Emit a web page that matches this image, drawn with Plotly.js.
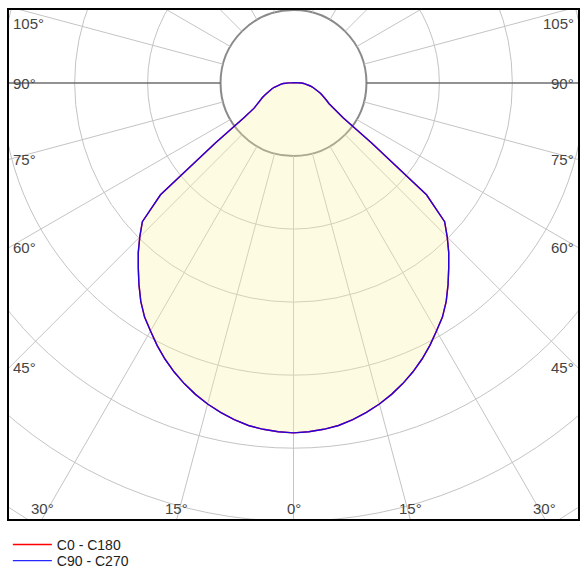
<!DOCTYPE html>
<html>
<head>
<meta charset="utf-8">
<script src="https://cdn.plot.ly/plotly-3.0.1.min.js"></script>
<style>
	html, body { margin: 0; padding: 0; background: #fff; }
	#plot { width: 586px; height: 586px; }
</style>
</head>
<body>
<div id="plot"></div>
<script>
	// Light distribution, cd/klm, gamma angle measured from straight down.
	const gammaDeg = [0, 2.5, 5, 7.5, 10, 12.5, 15, 17.5, 20, 22.5, 25, 27.5, 30, 32.5, 35, 37.5, 40, 42.5, 45, 47.5,
		50, 52.5, 55, 57.5, 60, 62.5, 65, 67.5, 70, 72.5, 75, 77.5, 80, 82.5, 85, 87.5, 90, 92.5, 95, 100, 105,
		120, 135, 150, 165, 180];
	const intensityC0 = [479, 478, 476, 473, 468, 462, 455, 447, 438, 428, 417, 405, 392, 380, 365, 348, 331, 315, 298, 281,
		238, 135, 83, 64, 56, 51, 47, 42, 38, 34, 30.5, 27, 23.5, 20, 17, 14, 11, 6, 3, 1.5, 1,
		0.5, 0.5, 0.5, 0.5, 0.5];
	const intensityC90 = [479, 478, 476, 473, 468, 462, 455, 447, 438, 428, 417, 405, 392, 380, 365, 348, 331, 315, 298, 281,
		238, 135, 83, 64, 56, 51, 47, 42, 38, 34, 30.5, 27, 23.5, 20, 17, 14, 11, 6, 3, 1.5, 1,
		0.5, 0.5, 0.5, 0.5, 0.5];

	// Grid.
	const gridRadii = [100, 200, 300, 400, 500, 600, 700];
	const gridAngles = [0, 15, 30, 45, 60, 75, 90, 105, 120, 135, 150, 165];
	const labelAngles = [0, 15, 30, 45, 60, 75, 90, 105];

	const xRange = [-390, 390];
	const yRange = [-597, 100];
	const rad = d => d * Math.PI / 180;

	// Closed curve of one C-plane pair: left half (gamma 180 -> 0), then right half (0 -> 180).
	function planeCurve(values) {
		const x = [], y = [];
		for (let i = gammaDeg.length - 1; i >= 0; i--) {
			x.push(-values[i] * Math.sin(rad(gammaDeg[i])));
			y.push(-values[i] * Math.cos(rad(gammaDeg[i])));
		}
		for (let i = 1; i < gammaDeg.length; i++) {
			x.push(values[i] * Math.sin(rad(gammaDeg[i])));
			y.push(-values[i] * Math.cos(rad(gammaDeg[i])));
		}
		return { x, y };
	}

	const c0 = planeCurve(intensityC0);
	const c90 = planeCurve(intensityC90);

	const traces = [
		{
			x: c0.x, y: c0.y, mode: 'lines', fill: 'toself',
			fillcolor: 'rgba(248,245,162,0.3)', line: { width: 0 },
			hoverinfo: 'skip', showlegend: false
		},
		{
			x: c0.x, y: c0.y, mode: 'lines', name: 'C0 - C180',
			line: { color: '#ff0000', width: 1.4 }, legend: 'legend'
		},
		{
			x: c90.x, y: c90.y, mode: 'lines', name: 'C90 - C270',
			line: { color: '#0000ff', width: 1.4 }, opacity: 0.85, legend: 'legend2'
		}
	];

	// Circles and radial lines as shapes under the traces.
	const shapes = [];
	gridRadii.forEach((r, i) => {
		shapes.push({
			type: 'circle', xref: 'x', yref: 'y', layer: 'below',
			x0: -r, x1: r, y0: -r, y1: r,
			line: { color: i === 0 ? '#8a8a8a' : '#c4c4c4', width: i === 0 ? 2 : 1 }
		});
	});
	gridAngles.forEach(a => {
		[1, -1].forEach(side => {
			if (a === 0 && side === -1) return;
			const sx = side * Math.sin(rad(a)), sy = -Math.cos(rad(a));
			shapes.push({
				type: 'line', xref: 'x', yref: 'y', layer: 'below',
				x0: 100 * sx, y0: 100 * sy, x1: 1000 * sx, y1: 1000 * sy,
				line: { color: a === 90 ? '#6e6e6e' : '#c4c4c4', width: a === 90 ? 1.5 : 1 }
			});
		});
	});

	// Angle labels where each ray meets the frame.
	const labelFont = { family: 'Arial, Liberation Sans, sans-serif', size: 15, color: '#444' };
	const annotations = [];
	labelAngles.forEach(a => {
		[1, -1].forEach(side => {
			if (a === 0 && side === -1) return;
			const t = Math.tan(rad(a));
			const xb = -yRange[0] * t;
			const ann = { text: a + '°', showarrow: false, font: labelFont, xref: 'x', yref: 'y' };
			if (a < 90 && xb <= xRange[1]) {
				Object.assign(ann, { x: side * xb, y: yRange[0], xanchor: 'center', yanchor: 'bottom', yshift: 0 });
			} else {
				let ys = a === 90 ? 0 : -xRange[1] / t;
				const opts = { x: side * xRange[1], xanchor: side > 0 ? 'right' : 'left', xshift: side > 0 ? -2 : 2 };
				if (ys > yRange[1]) {
					Object.assign(opts, { y: yRange[1], yanchor: 'top', yshift: -3 });
				} else {
					Object.assign(opts, { y: ys, yanchor: 'middle' });
				}
				Object.assign(ann, opts);
			}
			annotations.push(ann);
		});
	});

	const legendFont = { family: 'Arial, Liberation Sans, sans-serif', size: 14, color: '#222' };
	const layout = {
		width: 586,
		height: 586,
		margin: { l: 9, r: 8, t: 10, b: 67 },
		paper_bgcolor: '#fff',
		plot_bgcolor: '#fff',
		xaxis: {
			range: xRange, showgrid: false, zeroline: false, showticklabels: false, ticks: '',
			showline: true, mirror: true, linecolor: '#000', linewidth: 2, fixedrange: true
		},
		yaxis: {
			range: yRange, showgrid: false, zeroline: false, showticklabels: false, ticks: '',
			showline: true, mirror: true, linecolor: '#000', linewidth: 2, fixedrange: true
		},
		shapes: shapes,
		annotations: annotations,
		legend: {
			x: -0.002, y: -0.051, xanchor: 'left', yanchor: 'middle',
			font: legendFont, itemwidth: 39, bgcolor: 'rgba(0,0,0,0)'
		},
		legend2: {
			x: -0.002, y: -0.0825, xanchor: 'left', yanchor: 'middle',
			font: legendFont, itemwidth: 39, bgcolor: 'rgba(0,0,0,0)'
		}
	};

	Plotly.newPlot('plot', traces, layout, { staticPlot: true, displayModeBar: false });
</script>
</body>
</html>
